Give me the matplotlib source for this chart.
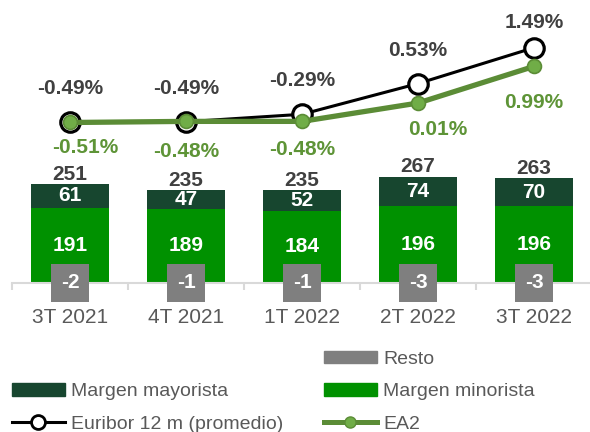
import matplotlib
matplotlib.use("Agg")
import matplotlib.pyplot as plt
from matplotlib.patches import Patch
from matplotlib.lines import Line2D
import numpy as np

plt.rcParams["font.family"] = ["Liberation Sans", "DejaVu Sans"]

# data
quarters = ["3T 2021", "4T 2021", "1T 2022", "2T 2022", "3T 2022"]
minorista = [191, 189, 184, 196, 196]
mayorista = [61, 47, 52, 74, 70]
resto = [-2, -1, -1, -3, -3]
totals = [251, 235, 235, 267, 263]
euribor = [-0.49, -0.49, -0.29, 0.53, 1.49]
ea2 = [-0.51, -0.48, -0.48, 0.01, 0.99]

# colours
c_min = "#009100"
c_may = "#17462f"
c_resto = "#7f7f7f"
c_ea2_line = "#5b8c36"
c_ea2_fill = "#70ad47"
c_ea2_text = "#5e9437"
c_dark = "#404040"
c_axis = "#d9d9d9"

W, H = 590, 432
fig = plt.figure(figsize=(W / 100, H / 100), dpi=100)
ax = fig.add_axes([12 / W, (H - 283) / H, 580 / W, 273 / H])
x = np.arange(len(quarters))
bw = 0.664

ax.bar(x, minorista, width=bw, color=c_min, zorder=2)
ax.bar(x, mayorista, width=bw, bottom=minorista, color=c_may, zorder=2)
ax.bar(x, resto, width=0.31, color=c_resto, zorder=3, clip_on=False)
ax.set_ylim(0, 693)
ax.set_xlim(-0.5, 4.5)

for i in range(len(x)):
    ax.text(x[i], minorista[i] / 2, str(minorista[i]), ha="center", va="center",
            color="white", fontsize=15, fontweight="bold", zorder=4)
    ax.text(x[i], minorista[i] + mayorista[i] / 2, str(mayorista[i]), ha="center",
            va="center", color="white", fontsize=15, fontweight="bold", zorder=4)
    ax.annotate(str(totals[i]), (x[i], minorista[i] + mayorista[i]),
                xytext=(0, 7), textcoords="offset points", ha="center", va="center",
                color=c_dark, fontsize=15, fontweight="bold")
    ax.text(x[i], 0, str(resto[i]), ha="center", va="center", color="white",
            fontsize=15, fontweight="bold", zorder=5,
            bbox=dict(boxstyle="square,pad=0.46", fc=c_resto, ec="none"))

for s in ["top", "left", "right"]:
    ax.spines[s].set_visible(False)
ax.spines["bottom"].set_color(c_axis)
ax.spines["bottom"].set_linewidth(1.5)
ax.set_yticks([])
ax.set_xticks(x)
ax.set_xticklabels(quarters, fontsize=15, color="#595959")
ax.tick_params(axis="x", which="major", length=0, pad=18)
ax.set_xticks(np.arange(-0.5, 5, 1), minor=True)
ax.tick_params(axis="x", which="minor", length=5, width=1.5, color=c_axis)

# lines
ax2 = ax.twinx()
ax2.set_ylim(-4.80, 2.497)
ax2.axis("off")
ax2.plot(x, euribor, color="black", lw=2.2, marker="o", ms=14, mfc="white",
         mec="black", mew=2.3, zorder=3)
ax2.plot(x, ea2, color=c_ea2_line, lw=3.8, marker="o", ms=10, mfc=c_ea2_fill,
         mec=c_ea2_line, mew=1.2, zorder=4)

eur_dy = [24, 24, 24, 24, 18]
ea2_off = [(11, -18), (0, -22), (0, -20), (14, -19), (0, -26)]
for i in range(len(x)):
    ax2.annotate(f"{euribor[i]:.2f}%", (x[i], euribor[i]), xytext=(0, eur_dy[i]),
                 textcoords="offset points", ha="center", va="center",
                 color=c_dark, fontsize=15, fontweight="bold")
    ax2.annotate(f"{ea2[i]:.2f}%", (x[i], ea2[i]), xytext=ea2_off[i],
                 textcoords="offset points", ha="center", va="center",
                 color=c_ea2_text, fontsize=15, fontweight="bold")

# legend in two columns
blank = Line2D([], [], alpha=0)
h_may = Patch(color=c_may)
h_eur = Line2D([], [], color="black", lw=2.2, marker="o", ms=10, mfc="white",
               mec="black", mew=2)
h_resto = Patch(color=c_resto)
h_min = Patch(color=c_min)
h_ea2 = Line2D([], [], color=c_ea2_line, lw=3.6, marker="o", ms=8, mfc=c_ea2_fill,
               mec=c_ea2_line, mew=1)
leg_kw = dict(loc="upper left", frameon=False, fontsize=14, labelcolor="#595959",
              borderpad=0, borderaxespad=0, handlelength=2.7, handleheight=0.6,
              handletextpad=0.35, labelspacing=0.79)
fig.legend([blank, h_may, h_eur], [" ", "Margen mayorista", "Euribor 12 m (promedio)"],
           bbox_to_anchor=(12 / W, 1 - 351 / H), **leg_kw)
fig.legend([h_resto, h_min, h_ea2], ["Resto", "Margen minorista", "EA2"],
           bbox_to_anchor=(324 / W, 1 - 351 / H), **leg_kw)

fig.savefig("out.png", dpi=100)
